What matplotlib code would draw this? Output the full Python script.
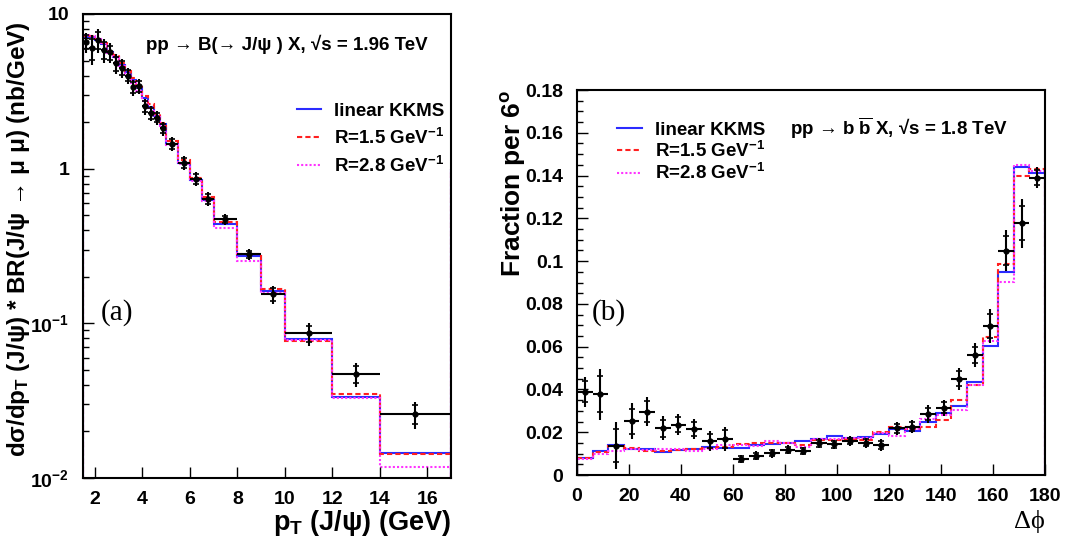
import numpy as np
import matplotlib
matplotlib.use('Agg')
import matplotlib.pyplot as plt
from matplotlib.ticker import FixedLocator, NullFormatter

plt.rcParams['font.family'] = ['Liberation Sans', 'DejaVu Sans']
plt.rcParams['font.weight'] = 'bold'
plt.rcParams['mathtext.fontset'] = 'custom'
plt.rcParams['mathtext.rm'] = 'Liberation Sans:bold'
plt.rcParams['mathtext.bf'] = 'Liberation Sans:bold'
plt.rcParams['mathtext.it'] = 'Liberation Sans:bold'

# ---- panel (a) : B -> J/psi pT spectrum ----
pt_edges = [1.5, 1.75, 2.0, 2.25, 2.5, 2.75, 3.0, 3.25, 3.5, 3.75, 4.0, 4.25,
            4.5, 4.75, 5.0, 5.5, 6.0, 6.5, 7.0, 8.0, 9.0, 10.0, 12.0, 14.0, 17.0]
pt_data = [6.6, 6.0, 6.8, 5.85, 5.65, 4.8, 4.5, 4.0, 3.35, 3.4, 2.53, 2.28,
           2.14, 1.82, 1.45, 1.09, 0.86, 0.64, 0.47, 0.28, 0.154, 0.086,
           0.047, 0.026]
pt_relerr = [0.15, 0.22, 0.18, 0.17, 0.15, 0.15, 0.14, 0.12, 0.12, 0.11, 0.12,
             0.11, 0.10, 0.10, 0.10, 0.10, 0.10, 0.10, 0.08, 0.08, 0.14, 0.17,
             0.18, 0.20]
pt_kkms = [7.1, 7.1, 6.8, 6.4, 5.7, 5.3, 4.7, 4.2, 3.75, 3.3, 2.85, 2.5, 2.2,
           1.93, 1.45, 1.09, 0.84, 0.63, 0.44, 0.272, 0.161, 0.079, 0.0334,
           0.0145]
pt_r15 = [7.2, 7.2, 6.9, 6.5, 5.8, 5.4, 4.8, 4.3, 3.85, 3.35, 2.95, 2.6, 2.25,
          1.98, 1.52, 1.13, 0.865, 0.651, 0.455, 0.28, 0.167, 0.0766, 0.0348,
          0.0143]
pt_r28 = [7.3, 7.2, 6.9, 6.5, 5.6, 5.2, 4.6, 4.1, 3.6, 3.2, 2.75, 2.45, 2.15,
          1.88, 1.42, 1.07, 0.83, 0.62, 0.416, 0.253, 0.158, 0.078, 0.033,
          0.0117]

# ---- panel (b) : delta phi ----
dphi_edges = np.arange(0, 181, 6)
dphi_data = [0.039, 0.0377, 0.0137, 0.0251, 0.0296, 0.0218, 0.0235, 0.0214,
             0.0159, 0.0168, 0.0075, 0.0090, 0.0101, 0.0118, 0.0112, 0.0148,
             0.0143, 0.0159, 0.0151, 0.0140, 0.0218, 0.0226, 0.0285, 0.0315,
             0.0449, 0.0562, 0.0698, 0.1049, 0.1177, 0.139]
dphi_err = [0.007, 0.012, 0.011, 0.0084, 0.0069, 0.0056, 0.005, 0.0047, 0.0048,
            0.0058, 0.0018, 0.002, 0.002, 0.0021, 0.002, 0.0023, 0.0021, 0.0023,
            0.0023, 0.0027, 0.0029, 0.0031, 0.004, 0.0037, 0.005, 0.0055, 0.008,
            0.0097, 0.0115, 0.005]
dphi_kkms = [0.0081, 0.0112, 0.0139, 0.0120, 0.0120, 0.0109, 0.0116, 0.0120,
             0.0132, 0.0125, 0.0125, 0.0138, 0.0143, 0.0148, 0.0159, 0.0167,
             0.0184, 0.0175, 0.0179, 0.0192, 0.0214, 0.0208, 0.0246, 0.0292,
             0.0323, 0.0436, 0.0603, 0.095, 0.144, 0.141]
dphi_r15 = [0.0078, 0.0108, 0.0135, 0.0125, 0.0113, 0.0112, 0.0118, 0.0123,
            0.0126, 0.0130, 0.0145, 0.0150, 0.0148, 0.0150, 0.0140, 0.0165,
            0.0165, 0.0170, 0.0163, 0.0200, 0.0225, 0.0215, 0.0225, 0.0258,
            0.0350, 0.0420, 0.0644, 0.0986, 0.140, 0.143]
dphi_r28 = [0.0075, 0.0100, 0.0110, 0.0120, 0.0118, 0.0120, 0.0120, 0.0112,
            0.0122, 0.0140, 0.0140, 0.0135, 0.0158, 0.0148, 0.0133, 0.0170,
            0.0168, 0.0175, 0.0172, 0.0198, 0.0183, 0.0213, 0.0260, 0.0280,
            0.0305, 0.0420, 0.0628, 0.0902, 0.145, 0.142]

labels = ['linear KKMS', r'R=1.5 GeV$^{-1}$', r'R=2.8 GeV$^{-1}$']
colors = ['#2b2bff', '#ff2020', '#ff33ff']
styles = ['-', (0, (2.5, 1.5)), (0, (1, 1))]
serif = ['Liberation Serif', 'DejaVu Serif']


def draw_data(ax, x, y, xerr, yerr):
    # total errors as plain lines, stat errors as small ticks
    ax.errorbar(x, y, xerr=xerr, yerr=yerr, fmt='o', ms=3.5, color='black',
                elinewidth=1.5, capsize=0, zorder=5)
    ax.errorbar(x, y, yerr=0.7 * np.asarray(yerr), fmt='none', ecolor='black',
                elinewidth=0, capsize=2.5, capthick=1.2, zorder=5)


fig = plt.figure(figsize=(10.8, 5.38), dpi=100)

# ---------------- left ----------------
ax1 = fig.add_axes([0.0769, 0.1115, 0.3407, 0.8625])
edges = np.array(pt_edges)
centers = 0.5 * (edges[1:] + edges[:-1])
halfw = 0.5 * (edges[1:] - edges[:-1])
for vals, lab, c, ls in zip([pt_kkms, pt_r15, pt_r28], labels, colors, styles):
    ax1.stairs(vals, edges, color=c, linestyle=ls, lw=1.5, label=lab)
    ax1.vlines(edges[-1], 1e-2, 1.0, color=c, linestyle=ls, lw=1.5)
draw_data(ax1, centers, pt_data, halfw, np.array(pt_data) * np.array(pt_relerr))

ax1.set_yscale('log')
ax1.set_xlim(1.5, 17)
ax1.set_ylim(1e-2, 10)
ax1.yaxis.set_major_locator(FixedLocator([1e-2, 1e-1, 1, 10]))
ax1.set_yticklabels([r'10$^{-2}$', r'10$^{-1}$', '1', '10'])
ax1.yaxis.set_minor_locator(FixedLocator(
    [m * 10.0 ** e for e in range(-2, 1) for m in range(2, 10)]))
ax1.yaxis.set_minor_formatter(NullFormatter())
ax1.set_xticks(range(2, 17, 2))
ax1.tick_params(axis='x', which='major', direction='in', labelsize=14,
                length=8, width=1, top=False, pad=9)
ax1.tick_params(axis='y', which='major', direction='in', labelsize=14,
                length=8, width=1, right=False, pad=10)
ax1.tick_params(axis='y', which='minor', direction='in', length=4, width=1)
for lab in ax1.get_xticklabels() + ax1.get_yticklabels():
    lab.set_fontweight('bold')
ax1.set_ylabel('dσ/dp$_{T}$ (J/ψ) * BR(J/ψ → μ μ) (nb/GeV)',
               fontsize=17.5, fontweight='bold', loc='top')
ax1.yaxis.set_label_coords(-0.14, 0.985)
ax1.set_xlabel('p$_{T}$ (J/ψ) (GeV)', fontsize=19.5, fontweight='bold', loc='right')
ax1.xaxis.set_label_coords(1.0, -0.065)
ax1.text(0.553, 0.935, 'pp → B(→ J/ψ ) X, √s = 1.96 TeV',
         transform=ax1.transAxes, fontsize=13.5, fontweight='bold', ha='center', va='center')
ax1.text(0.049, 0.356, '(a)', transform=ax1.transAxes, fontsize=21,
         family=serif, fontweight='normal', va='center')
ax1.legend(loc='upper left', bbox_to_anchor=(0.582, 0.809), frameon=False,
           fontsize=13.5, handlelength=1.25, labelspacing=0.42, handletextpad=0.7,
           borderpad=0, borderaxespad=0)
for s in ax1.spines.values():
    s.set_linewidth(1.5)

# ---------------- right ----------------
ax2 = fig.add_axes([0.5343, 0.1171, 0.4333, 0.7156])
dedges = np.array(dphi_edges)
dcent = 0.5 * (dedges[1:] + dedges[:-1])
for vals, lab, c, ls in zip([dphi_kkms, dphi_r15, dphi_r28], labels, colors, styles):
    ax2.stairs(vals, dedges, baseline=0, color=c, linestyle=ls, lw=1.5, label=lab)
draw_data(ax2, dcent, dphi_data, 3, dphi_err)

ax2.set_xlim(0, 180)
ax2.set_ylim(0, 0.18)
ax2.set_xticks(range(0, 181, 20))
ax2.set_yticks(np.arange(0, 0.181, 0.02))
ax2.set_yticklabels(['0', '0.02', '0.04', '0.06', '0.08', '0.1', '0.12',
                     '0.14', '0.16', '0.18'])
ax2.yaxis.set_minor_locator(FixedLocator(np.arange(0, 0.1801, 0.005)))
ax2.tick_params(axis='x', which='major', direction='in', labelsize=14,
                length=8, width=1, top=False, pad=9)
ax2.tick_params(axis='y', which='major', direction='in', labelsize=14,
                length=8, width=1, right=False, pad=10)
ax2.tick_params(axis='y', which='minor', direction='in', length=4, width=1)
for lab in ax2.get_xticklabels() + ax2.get_yticklabels():
    lab.set_fontweight('bold')
ax2.set_ylabel('Fraction per 6$^{o}$', fontsize=19, fontweight='bold', loc='top')
ax2.yaxis.set_label_coords(-0.105, 1.0)
ax2.set_xlabel('Δϕ', fontsize=19, family=serif, fontweight='normal', loc='right')
ax2.xaxis.set_label_coords(1.0, -0.09)
ax2.text(0.455, 0.901, r'pp → b $\overline{\mathrm{b}}$ X, √s = 1.8 TeV',
         transform=ax2.transAxes, fontsize=13.5, fontweight='bold', ha='left', va='center')
ax2.text(0.032, 0.421, '(b)', transform=ax2.transAxes, fontsize=21,
         family=serif, fontweight='normal', va='center')
ax2.legend(loc='upper left', bbox_to_anchor=(0.0855, 0.918), frameon=False,
           fontsize=13.5, handlelength=1.35, labelspacing=0.12, handletextpad=0.7,
           borderpad=0, borderaxespad=0)
for s in ax2.spines.values():
    s.set_linewidth(1.5)

fig.savefig('out.png', dpi=100)
